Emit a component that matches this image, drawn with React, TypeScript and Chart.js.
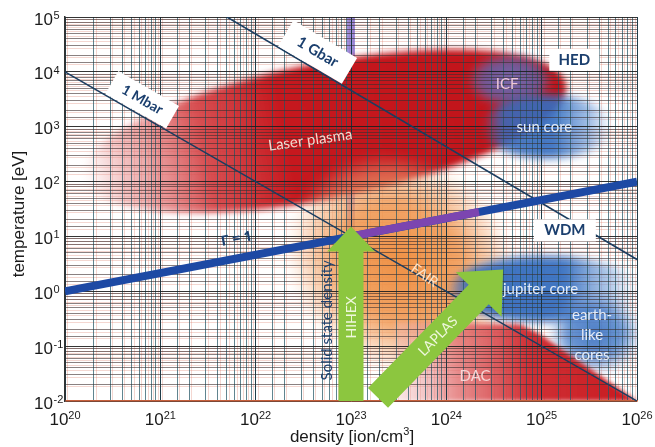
import React, { useEffect, useRef } from 'react';
import { Chart, registerables } from 'chart.js';
Chart.register(...registerables);

// ---------------- data ----------------
const xTickExponents = [20, 21, 22, 23, 24, 25, 26];
const yTickExponents = [-2, -1, 0, 1, 2, 3, 4, 5];
const densityRange = [1e20, 1e26];
const temperatureRange = [1e-2, 1e5];

const mbarDensity = [1e20, 1e26];
const mbarTemperature = [1e4, 1e-2];
const gbarDensity = [5.0e21, 1e26];
const gbarTemperature = [1e5, 3.8];
const gammaDensity = [1e20, 1e26];
const gammaTemperature = [1, 100];
const gammaMixDensity = [9.1e22, 2.2e24];
const gammaMixTemperature = [9.7, 28];
const solidStateDensity = [1e23, 1e23];
const solidStateTemperature = [1e-2, 1e5];

const regionNames = ['Laser plasma', 'FAIR', 'ICF', 'sun core', 'jupiter core', 'earth-\nlike\ncores'];
const regionLogDensity = [22.72, 23.53, 24.67, 25.06, 25.04, 25.56];
const regionLogTemperature = [2.92, 0.49, 3.85, 3.0, 0.04, -0.78];
const regionHalfDecadesDensity = [2.58, 1.26, 0.45, 0.68, 1.0, 0.5];
const regionHalfDecadesTemperature = [1.24, 1.9, 0.5, 0.58, 0.6, 0.75];

const dacName = 'DAC';
const dacDensity = [2.9e23, 5.9e24, 9.5e24, 1e26, 2.9e23];
const dacTemperature = [0.275, 0.25, 0.166, 0.01, 0.01];
const dacLabelDensity = 2.0e24;
const dacLabelTemperature = 0.0285;

const arrowNames = ['HIHEX', 'LAPLAS'];
const arrowStartDensity = [1e23, 1.92e23];
const arrowStartTemperature = [1e-2, 0.0114];
const arrowEndDensity = [1e23, 3.94e24];
const arrowEndTemperature = [15.1, 2.5];

const boxLabels = ['HED', 'WDM'];
const boxDensity = [2.2e25, 1.75e25];
const boxTemperature = [1.66e4, 12.9];

const lineLabels = ['1 Mbar', '1 Gbar', 'Γ = 1'];
const lineLabelDensity = [10 ** 20.81, 10 ** 22.65, 10 ** 21.8];
const lineLabelTemperature = [10 ** 3.49, 10 ** 4.36, 10 ** 0.95];

const solidStateLabel = 'Solid state density';
const xTitle = 'density [ion/cm';
const xTitleSup = '3';
const xTitleEnd = ']';
const yTitle = 'temperature [eV]';

// ---------------- styles ----------------
const ANNOT = 'Lato, "Open Sans", sans-serif';
const GREEKF = '"Open Sans", "Noto Sans", sans-serif';
const AXISF = '"Liberation Sans", Arial, sans-serif';
const DARKBLUE = '#1b3f6e';

type Stop = [number, string];
const regionStyles: { tilt: number; blur: number; grad: 'linear' | 'radial'; stops: Stop[]; text: string; dx: number; dy: number; rot: number; size: number }[] = [
  { tilt: -11, blur: 3, grad: 'linear', stops: [[0, 'rgba(236,170,170,0)'], [0.08, 'rgba(230,140,140,0.5)'], [0.25, 'rgba(212,65,68,0.92)'], [0.42, 'rgba(198,24,30,1)'], [1, 'rgba(192,20,26,1)']], text: '#f6d6cc', dx: -14, dy: 9, rot: -8, size: 15 },
  { tilt: 35, blur: 6, grad: 'radial', stops: [[0, 'rgba(238,138,58,0.95)'], [0.55, 'rgba(240,152,82,0.88)'], [0.82, 'rgba(244,178,128,0.5)'], [1, 'rgba(246,200,160,0)']], text: '#fde3c8', dx: 23, dy: 11, rot: 35, size: 14 },
  { tilt: 0, blur: 4, grad: 'radial', stops: [[0, 'rgba(105,125,205,0.82)'], [0.7, 'rgba(80,110,195,0.7)'], [1, 'rgba(110,150,215,0)']], text: '#f0c8d8', dx: -3, dy: 4, rot: 0, size: 15 },
  { tilt: 0, blur: 4, grad: 'linear', stops: [[0, 'rgba(70,120,200,0)'], [0.15, 'rgba(55,108,190,0.88)'], [0.55, 'rgba(52,110,192,0.92)'], [0.85, 'rgba(100,150,215,0.55)'], [1, 'rgba(150,185,230,0)']], text: '#e4ecf8', dx: -3, dy: 0, rot: 0, size: 15 },
  { tilt: 0, blur: 4, grad: 'linear', stops: [[0, 'rgba(60,110,195,0.3)'], [0.1, 'rgba(50,105,190,0.93)'], [0.6, 'rgba(50,108,190,0.93)'], [0.85, 'rgba(110,155,215,0.5)'], [1, 'rgba(200,215,240,0)']], text: '#e4ecf8', dx: -5, dy: 0, rot: 0, size: 15 },
  { tilt: 0, blur: 5, grad: 'radial', stops: [[0, 'rgba(55,110,190,0.9)'], [0.6, 'rgba(65,120,198,0.78)'], [1, 'rgba(120,160,220,0)']], text: '#e4ecf8', dx: -3, dy: 1, rot: 0, size: 15 },
];

const isMajor = (v: number) => {
  const l = Math.log10(v);
  return Math.abs(l - Math.round(l)) < 1e-6;
};

function drawText(ctx: CanvasRenderingContext2D, text: string, px: number, py: number, rotDeg: number, font: string, color: string, lineH = 20) {
  ctx.save();
  ctx.translate(px, py);
  ctx.rotate((rotDeg * Math.PI) / 180);
  ctx.font = font;
  ctx.fillStyle = color;
  ctx.textAlign = 'center';
  ctx.textBaseline = 'middle';
  const lines = text.split('\n');
  lines.forEach((ln, i) => ctx.fillText(ln, 0, (i - (lines.length - 1) / 2) * lineH));
  ctx.restore();
}

function drawArrow(ctx: CanvasRenderingContext2D, x0: number, y0: number, x1: number, y1: number, shaftW: number, headW: number, headL: number, color: string) {
  const dx = x1 - x0, dy = y1 - y0, len = Math.hypot(dx, dy);
  const ux = dx / len, uy = dy / len, px = -uy, py = ux;
  const bx = x1 - ux * headL, by = y1 - uy * headL;
  ctx.beginPath();
  ctx.moveTo(x0 + (px * shaftW) / 2, y0 + (py * shaftW) / 2);
  ctx.lineTo(bx + (px * shaftW) / 2, by + (py * shaftW) / 2);
  ctx.lineTo(bx + (px * headW) / 2, by + (py * headW) / 2);
  ctx.lineTo(x1, y1);
  ctx.lineTo(bx - (px * headW) / 2, by - (py * headW) / 2);
  ctx.lineTo(bx - (px * shaftW) / 2, by - (py * shaftW) / 2);
  ctx.lineTo(x0 - (px * shaftW) / 2, y0 - (py * shaftW) / 2);
  ctx.closePath();
  ctx.fillStyle = color;
  ctx.fill();
}

const diagramPlugin = {
  id: 'diagram',
  beforeDraw(chart: any) {
    const { ctx, chartArea: a } = chart;
    const x = chart.scales.x, y = chart.scales.y;
    ctx.save();
    ctx.beginPath();
    ctx.rect(a.left, a.top, a.right - a.left, a.bottom - a.top);
    ctx.clip();

    // faint reddish companion grid lines (scanned-print look)
    ctx.lineWidth = 1;
    ctx.strokeStyle = 'rgba(215,110,90,0.28)';
    x.ticks.forEach((t: any) => {
      const px = Math.round(x.getPixelForValue(t.value)) + 2.5;
      ctx.beginPath();
      ctx.moveTo(px, a.top);
      ctx.lineTo(px, a.bottom);
      ctx.stroke();
    });
    y.ticks.forEach((t: any) => {
      const py = Math.round(y.getPixelForValue(t.value)) + 2.5;
      ctx.beginPath();
      ctx.moveTo(a.left, py);
      ctx.lineTo(a.right, py);
      ctx.stroke();
    });

    // solid state density line (beneath regions)
    const sx = x.getPixelForValue(solidStateDensity[0]);
    ctx.strokeStyle = 'rgba(118,98,210,0.7)';
    ctx.lineWidth = 8;
    ctx.beginPath();
    ctx.moveTo(sx, y.getPixelForValue(solidStateTemperature[0]));
    ctx.lineTo(sx, y.getPixelForValue(solidStateTemperature[1]));
    ctx.stroke();

    regionNames.forEach((_, i) => {
      const st = regionStyles[i];
      const cx = x.getPixelForValue(10 ** regionLogDensity[i]);
      const cy = y.getPixelForValue(10 ** regionLogTemperature[i]);
      const rx = x.getPixelForValue(10 ** (regionLogDensity[i] + regionHalfDecadesDensity[i])) - cx;
      const ry = cy - y.getPixelForValue(10 ** (regionLogTemperature[i] + regionHalfDecadesTemperature[i]));
      ctx.save();
      ctx.filter = `blur(${st.blur}px)`;
      ctx.translate(cx, cy);
      ctx.rotate((st.tilt * Math.PI) / 180);
      let g: CanvasGradient;
      ctx.beginPath();
      if (st.grad === 'linear') {
        g = ctx.createLinearGradient(-rx, 0, rx, 0);
        ctx.ellipse(0, 0, rx, ry, 0, 0, Math.PI * 2);
      } else {
        ctx.scale(1, ry / rx);
        g = ctx.createRadialGradient(0, 0, 0, 0, 0, rx);
        ctx.arc(0, 0, rx, 0, Math.PI * 2);
      }
      st.stops.forEach(([o, c]) => g.addColorStop(o, c));
      ctx.fillStyle = g;
      ctx.fill();
      ctx.restore();
    });

    // DAC region
    const dpx = dacDensity.map((d) => x.getPixelForValue(d));
    const dpy = dacTemperature.map((t) => y.getPixelForValue(t));
    const minX = Math.min(...dpx), maxX = Math.max(...dpx);
    ctx.save();
    ctx.filter = 'blur(2px)';
    const dg = ctx.createLinearGradient(minX, 0, maxX, 0);
    dg.addColorStop(0, 'rgba(240,190,190,0.35)');
    dg.addColorStop(0.25, 'rgba(226,115,115,0.8)');
    dg.addColorStop(0.55, 'rgba(206,40,46,0.96)');
    dg.addColorStop(1, 'rgba(200,25,30,1)');
    ctx.fillStyle = dg;
    ctx.beginPath();
    dpx.forEach((px, i) => (i ? ctx.lineTo(px, dpy[i]) : ctx.moveTo(px, dpy[i])));
    ctx.closePath();
    ctx.fill();
    ctx.restore();
    ctx.restore();
  },
  afterDatasetsDraw(chart: any) {
    const { ctx, chartArea: a } = chart;
    const x = chart.scales.x, y = chart.scales.y;

    // region labels
    regionNames.forEach((name, i) => {
      const st = regionStyles[i];
      const cx = x.getPixelForValue(10 ** regionLogDensity[i]) + st.dx;
      const cy = y.getPixelForValue(10 ** regionLogTemperature[i]) + st.dy;
      drawText(ctx, name, cx, cy, st.rot, `${st.size}px ${ANNOT}`, st.text, 20);
    });
    drawText(ctx, dacName, x.getPixelForValue(dacLabelDensity), y.getPixelForValue(dacLabelTemperature), 0, `15px ${ANNOT}`, '#f5d5d5');

    // arrows
    const arrowDims = [[25, 48, 25], [28, 64, 35]];
    arrowNames.forEach((name, i) => {
      const x0 = x.getPixelForValue(arrowStartDensity[i]);
      const y0 = y.getPixelForValue(arrowStartTemperature[i]);
      const x1 = x.getPixelForValue(arrowEndDensity[i]);
      const y1 = y.getPixelForValue(arrowEndTemperature[i]);
      const [sw, hw, hl] = arrowDims[i];
      drawArrow(ctx, x0, y0, x1, y1, sw, hw, hl, '#8cc63f');
      const t = 0.48;
      const ang = (Math.atan2(y1 - y0, x1 - x0) * 180) / Math.PI;
      drawText(ctx, name, x0 + (x1 - x0) * t, y0 + (y1 - y0) * t, ang, `14px ${ANNOT}`, '#eef7dc');
    });

    // solid state density text
    const sx = x.getPixelForValue(solidStateDensity[0]);
    drawText(ctx, solidStateLabel, sx - 24, y.getPixelForValue(10 ** -0.53), -90, `15px ${ANNOT}`, DARKBLUE);

    // line labels
    const lineSets = [[mbarDensity, mbarTemperature], [gbarDensity, gbarTemperature], [gammaDensity, gammaTemperature]];
    const boxSizes = [[70, 26], [74, 30], [0, 0]];
    lineLabels.forEach((lab, i) => {
      const [dd, tt] = lineSets[i];
      const ang = (Math.atan2(y.getPixelForValue(tt[1]) - y.getPixelForValue(tt[0]), x.getPixelForValue(dd[1]) - x.getPixelForValue(dd[0])) * 180) / Math.PI;
      const px = x.getPixelForValue(lineLabelDensity[i]);
      const py = y.getPixelForValue(lineLabelTemperature[i]);
      const [bw, bh] = boxSizes[i];
      if (bw) {
        ctx.save();
        ctx.translate(px, py);
        ctx.rotate((ang * Math.PI) / 180);
        ctx.fillStyle = '#ffffff';
        ctx.fillRect(-bw / 2, -bh / 2, bw, bh);
        ctx.restore();
      }
      const font = i === 2 ? `bold 14px ${GREEKF}` : `bold ${i === 1 ? 15 : 14}px ${ANNOT}`;
      drawText(ctx, lab, px, py, ang, font, DARKBLUE);
    });

    // boxes HED / WDM
    const bsz = [[50, 22], [62, 22]];
    boxLabels.forEach((lab, i) => {
      const px = x.getPixelForValue(boxDensity[i]);
      const py = y.getPixelForValue(boxTemperature[i]);
      ctx.fillStyle = '#ffffff';
      ctx.fillRect(px - bsz[i][0] / 2, py - bsz[i][1] / 2, bsz[i][0], bsz[i][1]);
      drawText(ctx, lab, px, py, 0, `bold 15px ${ANNOT}`, DARKBLUE);
    });

    // tick labels
    ctx.save();
    ctx.fillStyle = '#1a1a1a';
    ctx.textBaseline = 'alphabetic';
    xTickExponents.forEach((e) => {
      const px = x.getPixelForValue(10 ** e);
      ctx.font = `17px ${AXISF}`;
      const w10 = ctx.measureText('10').width;
      ctx.font = `11px ${AXISF}`;
      const es = String(e);
      const we = ctx.measureText(es).width;
      const left = px - (w10 + we) / 2;
      ctx.textAlign = 'left';
      ctx.font = `17px ${AXISF}`;
      ctx.fillText('10', left, a.bottom + 24);
      ctx.font = `11px ${AXISF}`;
      ctx.fillText(es, left + w10, a.bottom + 18);
    });
    yTickExponents.forEach((e) => {
      const py = y.getPixelForValue(10 ** e);
      const es = e < 0 ? '-' + String(-e) : String(e);
      ctx.textAlign = 'right';
      ctx.font = `17px ${AXISF}`;
      ctx.fillText('10', 53, py + 7.5);
      ctx.textAlign = 'left';
      ctx.font = `11px ${AXISF}`;
      ctx.fillText(es, 53.5, py + 2);
    });
    // axis titles
    ctx.font = `17px ${AXISF}`;
    const w1 = ctx.measureText(xTitle).width;
    const w3 = ctx.measureText(xTitleEnd).width;
    ctx.font = `11px ${AXISF}`;
    const w2 = ctx.measureText(xTitleSup).width;
    const lx = 352 - (w1 + w2 + w3) / 2;
    ctx.textAlign = 'left';
    ctx.font = `17px ${AXISF}`;
    ctx.fillText(xTitle, lx, 442);
    ctx.font = `11px ${AXISF}`;
    ctx.fillText(xTitleSup, lx + w1, 435);
    ctx.font = `17px ${AXISF}`;
    ctx.fillText(xTitleEnd, lx + w1 + w2, 442);
    ctx.restore();
    drawText(ctx, yTitle, 19, 214, -90, `17px ${AXISF}`, '#1a1a1a');
  },
};

export default function App() {
  const ref = useRef<HTMLCanvasElement>(null);
  useEffect(() => {
    if (!ref.current) return;
    const pts = (xs: number[], ys: number[]) => xs.map((v, i) => ({ x: v, y: ys[i] }));
    const chart = new Chart(ref.current, {
      type: 'scatter',
      data: {
        datasets: [
          { data: pts(gammaMixDensity, gammaMixTemperature), showLine: true, borderColor: '#7c45b0', borderWidth: 8, pointRadius: 0 },
          { data: pts(gammaDensity, gammaTemperature), showLine: true, borderColor: '#1d49a4', borderWidth: 8, pointRadius: 0 },
          { data: pts(mbarDensity, mbarTemperature), showLine: true, borderColor: '#1b3d60', borderWidth: 1.5, pointRadius: 0 },
          { data: pts(gbarDensity, gbarTemperature), showLine: true, borderColor: '#1b3d60', borderWidth: 1.5, pointRadius: 0 },
        ],
      },
      options: {
        responsive: false,
        animation: false,
        events: [],
        layout: { padding: { left: 65, right: 18, top: 17, bottom: 46 } },
        plugins: { legend: { display: false }, tooltip: { enabled: false } },
        scales: {
          x: {
            type: 'logarithmic',
            min: densityRange[0],
            max: densityRange[1],
            ticks: { display: false },
            grid: {
              drawTicks: false,
              lineWidth: 1,
              color: (c: any) => (c.tick && isMajor(c.tick.value) ? 'rgba(20,50,62,0.95)' : 'rgba(35,85,100,0.72)'),
            },
            border: { display: true, color: '#c8603c', width: 1.5 },
          },
          y: {
            type: 'logarithmic',
            min: temperatureRange[0],
            max: temperatureRange[1],
            ticks: { display: false },
            grid: {
              drawTicks: false,
              lineWidth: 1,
              color: (c: any) => (c.tick && isMajor(c.tick.value) ? 'rgba(30,30,30,0.9)' : 'rgba(60,45,45,0.6)'),
            },
            border: { display: true, color: '#333333', width: 1.5 },
          },
        },
      } as any,
      plugins: [diagramPlugin],
    });
    return () => chart.destroy();
  }, []);
  return (
    <div style={{ position: 'fixed', left: 0, top: 0, width: 655, height: 447, background: '#fff' }}>
      <canvas ref={ref} width={655} height={447} style={{ display: 'block' }} />
    </div>
  );
}
